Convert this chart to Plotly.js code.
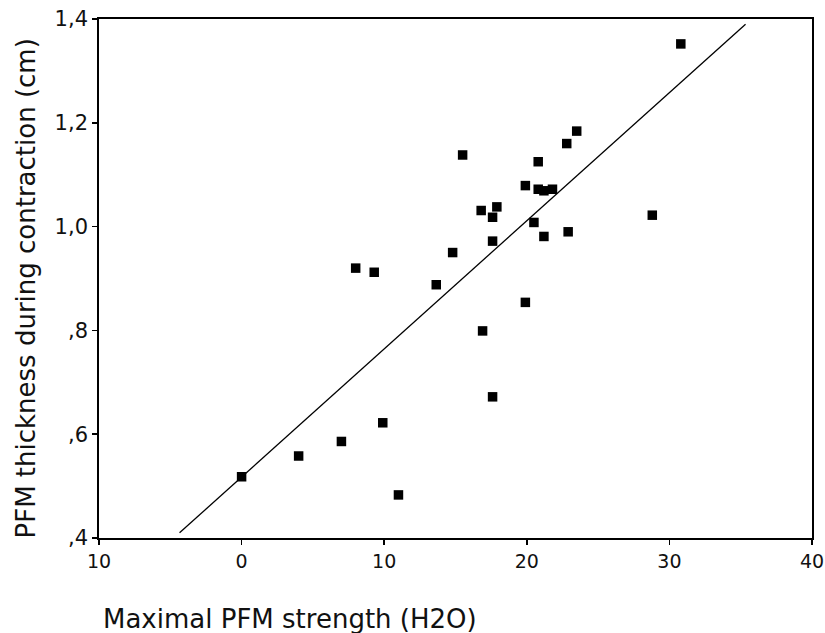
<!DOCTYPE html>
<html>
<head>
<meta charset="utf-8">
<script src="https://cdn.plot.ly/plotly-3.0.1.min.js"></script>
<style>html,body{margin:0;padding:0;background:#fff;}#chart{width:825px;height:633px;}</style>
</head>
<body>
<div id="chart"></div>
<script>
// Data
const strength = [8.0, 9.3, 9.9, 7.0, 4.0, 0.0, 11.0,
  23.5, 22.8, 15.5, 20.8, 19.9, 20.8, 21.2, 21.8, 17.9, 16.8, 17.6, 28.8,
  20.5, 22.9, 21.2, 17.6, 14.8, 13.65, 19.9, 16.9, 17.6, 30.8];
const thickness = [0.920, 0.912, 0.622, 0.586, 0.558, 0.518, 0.483,
  1.184, 1.160, 1.138, 1.125, 1.079, 1.072, 1.069, 1.072, 1.038, 1.031, 1.018, 1.022,
  1.008, 0.990, 0.981, 0.972, 0.950, 0.888, 0.854, 0.799, 0.672, 1.352];
const fitX = [-4.35, 35.34];
const fitY = [0.410, 1.390];
const xTickVals = [-10, 0, 10, 20, 30, 40];
const xTickText = ["10", "0", "10", "20", "30", "40"];
const yTickVals = [0.4, 0.6, 0.8, 1.0, 1.2, 1.4];
const yTickText = [",4", ",6", ",8", "1,0", "1,2", "1,4"];
const xTitle = "Maximal PFM strength (H2O)";
const yTitle = "PFM thickness during contraction (cm)";

const font = "DejaVu Sans, Verdana, sans-serif";

const traces = [
  {x: fitX, y: fitY, mode: "lines", line: {color: "#000", width: 1.3}, hoverinfo: "skip"},
  {x: strength, y: thickness, mode: "markers",
   marker: {symbol: "square", size: 9.5, color: "#000"}}
];

const layout = {
  width: 825, height: 633,
  margin: {l: 99, r: 13, t: 19, b: 95},
  showlegend: false,
  paper_bgcolor: "#fff", plot_bgcolor: "#fff",
  font: {family: font, color: "#111", size: 19},
  xaxis: {
    range: [-10, 40], tickvals: xTickVals, ticktext: xTickText,
    showgrid: false, zeroline: false, showline: true, mirror: true,
    linecolor: "#000", linewidth: 1.8, ticks: "outside", ticklen: 5, tickwidth: 1.5,
    tickcolor: "#000", tickfont: {family: font, size: 19, color: "#111"}
  },
  yaxis: {
    range: [0.4, 1.4], tickvals: yTickVals, ticktext: yTickText,
    showgrid: false, zeroline: false, showline: true, mirror: true,
    linecolor: "#000", linewidth: 1.8, ticks: "outside", ticklen: 5, tickwidth: 1.5,
    tickcolor: "#000", tickfont: {family: font, size: 21, color: "#111"}
  },
  annotations: [
    {text: xTitle, xref: "paper", yref: "paper", x: 0, y: 0,
     xanchor: "left", yanchor: "middle", xshift: 2, yshift: -81,
     showarrow: false, font: {family: font, size: 26, color: "#111"}},
    {text: yTitle, xref: "paper", yref: "paper", x: 0, y: 0.5, textangle: -90,
     xanchor: "center", yanchor: "middle", xshift: -74, yshift: -10,
     showarrow: false, font: {family: font, size: 26, color: "#111"}}
  ]
};

Plotly.newPlot("chart", traces, layout, {displayModeBar: false, staticPlot: true});
</script>
</body>
</html>
